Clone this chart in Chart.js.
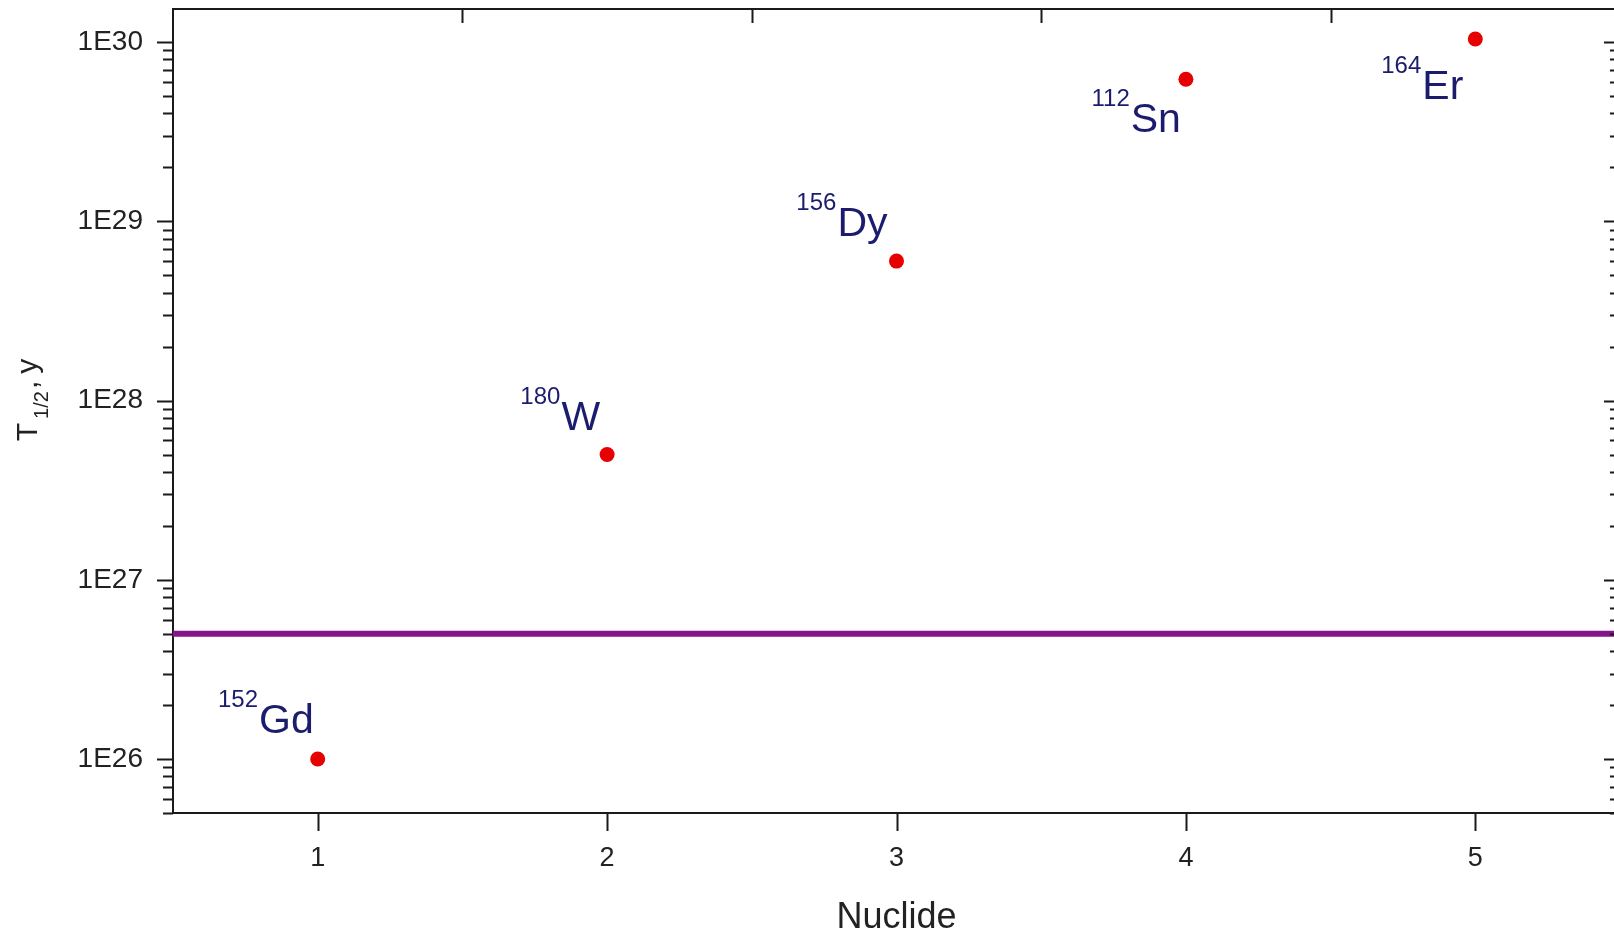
<!DOCTYPE html>
<html>
<head>
<meta charset="utf-8">
<title>Half-lives</title>
<script src="https://cdn.jsdelivr.net/npm/chart.js@4.4.1/dist/chart.umd.min.js"></script>
<style>
  html, body { margin: 0; padding: 0; background: #fff; overflow: hidden; }
  #wrap { width: 1632px; height: 936px; position: relative; }
</style>
</head>
<body>
<div id="wrap"><canvas id="chart"></canvas></div>
<script>
// data
const xValues = [1, 2, 3, 4, 5];
const halfLives = [1e26, 5e27, 6e28, 6.2e29, 1.04e30];
const elements = ['Gd', 'W', 'Dy', 'Sn', 'Er'];
const massNumbers = ['152', '180', '156', '112', '164'];
const limitValue = 5e26;

// axes
const xRange = [0.5, 5.5];
const yRange = [5e25, 1.53e30];
const xTicks = [1, 2, 3, 4, 5];
const xTopTicks = [1.5, 2.5, 3.5, 4.5];
const yTicks = [1e26, 1e27, 1e28, 1e29, 1e30];

const FONT = "'Liberation Sans', Arial, sans-serif";
const AXIS = '#1a1a1a';
const NAVY = '#1c1c6e';

const points = xValues.map((x, i) => ({ x: x, y: halfLives[i] }));
const limitLine = xRange.map(x => ({ x: x, y: limitValue }));

// label offsets (px) from each point: right edge + baseline of the element symbol
const labelPlacement = [[-4, -26], [-7, -25], [-9, -25], [-5, 53], [-12, 60]];

// tick marks: log minors on left/right, integers at bottom, half steps on top
const tickMarks = {
  id: 'tickMarks',
  afterDraw(chart) {
    const { ctx, chartArea: a, scales } = chart;
    const y = scales.y, x = scales.x;
    ctx.save();
    ctx.strokeStyle = AXIS;
    ctx.lineWidth = 2;
    ctx.beginPath();
    const lo = Math.floor(Math.log10(yRange[0]));
    const hi = Math.ceil(Math.log10(yRange[1]));
    for (let d = lo; d <= hi; d++) {
      for (let m = 1; m <= 9; m++) {
        const v = m * Math.pow(10, d);
        if (v < yRange[0] * 0.999 || v > yRange[1]) continue;
        const py = Math.round(y.getPixelForValue(v)) + 0.5;
        const len = m === 1 ? 16 : 10;
        ctx.moveTo(a.left - len, py); ctx.lineTo(a.left, py);
        ctx.moveTo(a.right, py); ctx.lineTo(a.right - len, py);
      }
    }
    xTicks.forEach(v => {
      const px = Math.round(x.getPixelForValue(v)) + 0.5;
      ctx.moveTo(px, a.bottom); ctx.lineTo(px, a.bottom + 18);
    });
    xTopTicks.forEach(v => {
      const px = Math.round(x.getPixelForValue(v)) + 0.5;
      ctx.moveTo(px, a.top); ctx.lineTo(px, a.top + 14);
    });
    ctx.stroke();
    ctx.restore();
  }
};

// nuclide labels with superscript mass numbers, plus the y title with subscript
const nuclideLabels = {
  id: 'nuclideLabels',
  afterDatasetsDraw(chart) {
    const { ctx, scales } = chart;
    ctx.save();
    ctx.fillStyle = NAVY;
    ctx.textBaseline = 'alphabetic';
    ctx.textAlign = 'right';
    points.forEach((p, i) => {
      const px = scales.x.getPixelForValue(p.x) + labelPlacement[i][0];
      const py = scales.y.getPixelForValue(p.y) + labelPlacement[i][1];
      ctx.font = '41px ' + FONT;
      const w = ctx.measureText(elements[i]).width;
      ctx.fillText(elements[i], px, py);
      ctx.font = '24px ' + FONT;
      ctx.fillText(massNumbers[i], px - w - 1, py - 26);
    });

    // y axis title: T_{1/2}, y
    ctx.fillStyle = '#222';
    ctx.translate(37, 400);
    ctx.rotate(-Math.PI / 2);
    ctx.textAlign = 'left';
    const parts = [['T', 30, 0, 4], ['1/2', 20, 11, 2], [',', 30, 0, 7], ['y', 30, 0, 0]];
    let total = 0;
    parts.forEach(p => { ctx.font = p[1] + 'px ' + FONT; total += ctx.measureText(p[0]).width + p[3]; });
    let cx = -total / 2;
    parts.forEach(p => {
      ctx.font = p[1] + 'px ' + FONT;
      ctx.fillText(p[0], cx, p[2]);
      cx += ctx.measureText(p[0]).width + p[3];
    });
    ctx.restore();
  }
};

const border = { display: true, color: AXIS, width: 2 };
const noGrid = { display: false, drawTicks: false };

new Chart(document.getElementById('chart'), {
  type: 'scatter',
  data: {
    datasets: [
      {
        label: 'T1/2',
        data: points,
        backgroundColor: '#e60000',
        borderWidth: 0,
        pointRadius: 7.5,
        pointHoverRadius: 7.5
      },
      {
        label: 'limit',
        data: limitLine,
        showLine: true,
        borderColor: '#85168a',
        borderWidth: 6,
        pointRadius: 0,
        fill: false
      }
    ]
  },
  options: {
    responsive: true,
    maintainAspectRatio: false,
    animation: false,
    events: [],
    layout: { padding: 0 },
    plugins: { legend: { display: false }, tooltip: { enabled: false } },
    scales: {
      x: {
        type: 'linear',
        position: 'bottom',
        min: xRange[0],
        max: xRange[1],
        grid: noGrid,
        border: border,
        afterBuildTicks: s => { s.ticks = xTicks.map(v => ({ value: v })); },
        afterFit: s => { s.height = 123; s.paddingLeft = 0; s.paddingRight = 0; },
        ticks: {
          padding: 29,
          color: '#222',
          font: { family: FONT, size: 27 },
          callback: v => String(v)
        },
        title: {
          display: true,
          text: 'Nuclide',
          color: '#222',
          font: { family: FONT, size: 36, lineHeight: 1 },
          padding: { top: 0, bottom: 0 }
        }
      },
      xTop: {
        type: 'linear',
        position: 'top',
        min: xRange[0],
        max: xRange[1],
        grid: noGrid,
        border: border,
        ticks: { display: false },
        afterFit: s => { s.height = 9; s.paddingLeft = 0; s.paddingRight = 0; }
      },
      y: {
        type: 'logarithmic',
        position: 'left',
        min: yRange[0],
        max: yRange[1],
        grid: noGrid,
        border: border,
        afterBuildTicks: s => { s.ticks = yTicks.map(v => ({ value: v })); },
        afterFit: s => { s.width = 173; s.paddingTop = 0; s.paddingBottom = 0; },
        ticks: {
          padding: 30,
          color: '#222',
          font: { family: FONT, size: 28 },
          callback: v => '1E' + Math.round(Math.log10(v))
        }
      },
      yRight: {
        type: 'logarithmic',
        position: 'right',
        min: yRange[0],
        max: yRange[1],
        grid: noGrid,
        border: border,
        ticks: { display: false },
        afterFit: s => { s.width = 12; s.paddingTop = 0; s.paddingBottom = 0; }
      }
    }
  },
  plugins: [tickMarks, nuclideLabels]
});
</script>
</body>
</html>
